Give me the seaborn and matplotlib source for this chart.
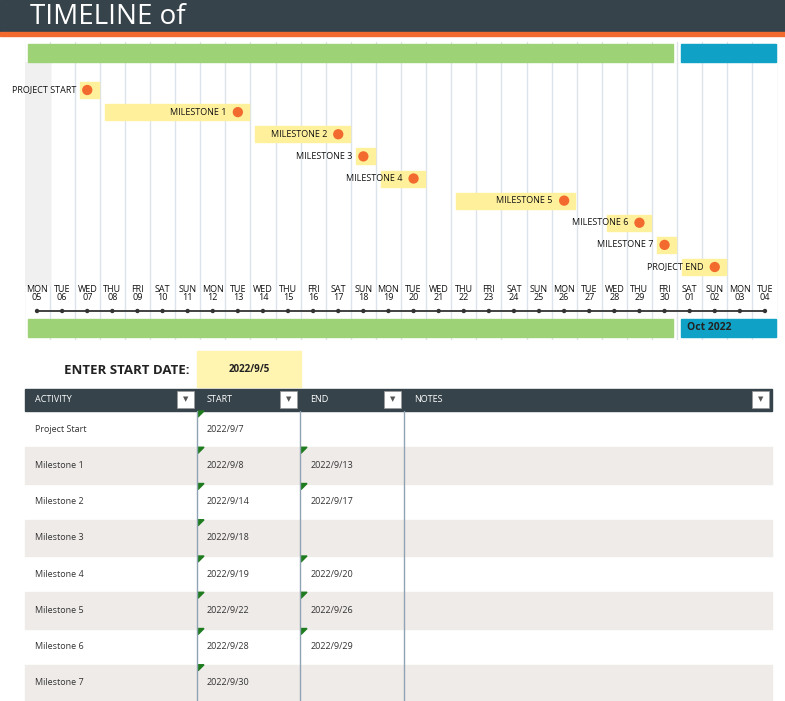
import numpy as np
import pandas as pd
import seaborn as sns
import matplotlib.pyplot as plt
from matplotlib.patches import Rectangle

start_date = pd.Timestamp("2022-09-05")
days = pd.date_range(start_date, periods=30)

activities = ["Project Start", "Milestone 1", "Milestone 2", "Milestone 3", "Milestone 4",
              "Milestone 5", "Milestone 6", "Milestone 7"]
starts = ["2022-09-07", "2022-09-08", "2022-09-14", "2022-09-18", "2022-09-19",
          "2022-09-22", "2022-09-28", "2022-09-30"]
ends = [None, "2022-09-13", "2022-09-17", None, "2022-09-20", "2022-09-26", "2022-09-29", None]

# timeline entries (includes project end)
tl_labels = ["PROJECT START", "MILESTONE 1", "MILESTONE 2", "MILESTONE 3", "MILESTONE 4",
             "MILESTONE 5", "MILESTONE 6", "MILESTONE 7", "PROJECT END"]
tl_starts = starts + ["2022-10-01"]
tl_ends = ends + ["2022-10-02"]

sns.set_style("white")
plt.rcParams["font.family"] = ["Open Sans", "DejaVu Sans"]

W, H = 785, 701
fig = plt.figure(figsize=(W / 100, H / 100), dpi=100)
bg = fig.add_axes([0, 0, 1, 1])
bg.set_xlim(0, W)
bg.set_ylim(H, 0)
bg.axis("off")

# title bar
bg.add_patch(Rectangle((0, 0), W, 32, color="#36434b"))
bg.add_patch(Rectangle((0, 32), W, 4, color="#f26a2e"))
bg.text(30, 17, "TIMELINE of", color="white", fontsize=20, va="center", ha="left")

# timeline axes: x in day index, y in pixels
ax = fig.add_axes([24.5 / W, (H - 340) / H, 753 / W, 300 / H])
ax.set_xlim(-0.5, 29.5)
ax.set_ylim(340, 40)
ax.axis("off")

for i in range(31):
    ax.plot([i - 0.5, i - 0.5], [42, 340], color="#dde3ea", lw=1, zorder=0)
ax.add_patch(Rectangle((-0.5, 62), 1, 223, color="#f0f0f0", zorder=0))

d_idx = {d: i for i, d in enumerate(days)}
sep = [i for i, d in enumerate(days) if d.month == 9]
octo = [i for i, d in enumerate(days) if d.month == 10]
for y in (44, 319):
    ax.add_patch(Rectangle((sep[0] - 0.35, y), sep[-1] - sep[0] + 0.7, 18, color="#9dd276", zorder=1))
    ax.add_patch(Rectangle((octo[0] - 0.35, y), octo[-1] - octo[0] + 0.8, 18, color="#0fa2c6", zorder=1))
ax.text(octo[0] - 0.1, 328, "Oct 2022", fontsize=7.5, va="center", ha="left", fontweight="bold", color="#222")

rows_y = np.linspace(90, 267, len(tl_labels))
dot_x = []
for k, (lab, s, e) in enumerate(zip(tl_labels, tl_starts, tl_ends)):
    si = d_idx[pd.Timestamp(s)]
    ei = d_idx[pd.Timestamp(e)] if e else si
    y = rows_y[k]
    ax.add_patch(Rectangle((si - 0.3, y - 8), ei - si + 0.75, 16, color="#fff19c", zorder=2))
    ax.text(ei - 0.45, y, lab, fontsize=6.5, ha="right", va="center", color="#111", zorder=4)
    dot_x.append(ei)
pts = pd.DataFrame({"x": dot_x, "y": rows_y})
sns.scatterplot(data=pts, x="x", y="y", ax=ax, color="#f26a2e", s=55, edgecolor="none", zorder=3)
ax.set_xlim(-0.5, 29.5)
ax.set_ylim(340, 40)
ax.axis("off")

# day axis
idx = np.arange(len(days))
ax.plot([idx[0], idx[-1]], [311, 311], color="#333", lw=1.3, zorder=2)
sns.scatterplot(x=idx, y=np.full(len(idx), 311), ax=ax, color="#333", s=10, edgecolor="none", zorder=3)
for i, d in enumerate(days):
    ax.text(i, 290, d.strftime("%a").upper(), fontsize=6.5, ha="center", va="center", color="#111")
    ax.text(i, 298, d.strftime("%d"), fontsize=6.5, ha="center", va="center", color="#111")
ax.set_xlim(-0.5, 29.5)
ax.set_ylim(340, 40)
ax.axis("off")

# start date input
bg.text(190, 371, "ENTER START DATE:", fontsize=9.5, fontweight="bold", ha="right", va="center", color="#222")
bg.add_patch(Rectangle((197, 351), 104, 36, color="#fff4b0"))
bg.text(249, 370, f"{start_date.year}/{start_date.month}/{start_date.day}", fontsize=7,
        fontweight="bold", ha="center", va="center", color="#222")

# table
cols = [("ACTIVITY", 25, 197), ("START", 197, 300), ("END", 300, 404), ("NOTES", 404, 772)]
bg.add_patch(Rectangle((25, 389), 747, 22, color="#36434b"))
for name, x0, x1 in cols:
    bg.text(x0 + 10, 400, name, fontsize=6.5, color="white", va="center")
    bg.add_patch(Rectangle((x1 - 20, 391), 17, 17, facecolor="white", edgecolor="#999", lw=0.5))
    bg.text(x1 - 11.5, 400, "▼", fontsize=5, ha="center", va="center", color="#555")

rh = 36.25
for r, (act, s, e) in enumerate(zip(activities, starts, ends)):
    y0 = 411 + r * rh
    if r % 2 == 1:
        bg.add_patch(Rectangle((25, y0), 747, rh, color="#efebe9", zorder=0))
    yc = y0 + rh / 2
    bg.text(35, yc, act, fontsize=6.5, va="center", color="#333")
    sd = pd.Timestamp(s)
    bg.text(207, yc, f"{sd.year}/{sd.month}/{sd.day}", fontsize=6.5, va="center", color="#333")
    bg.add_patch(plt.Polygon([[198, y0], [204, y0], [198, y0 + 6]], color="#1e7b1e"))
    if e:
        ed = pd.Timestamp(e)
        bg.text(311, yc, f"{ed.year}/{ed.month}/{ed.day}", fontsize=6.5, va="center", color="#333")
        bg.add_patch(plt.Polygon([[301, y0], [307, y0], [301, y0 + 6]], color="#1e7b1e"))
for x in (197, 300, 404):
    bg.plot([x, x], [411, H], color="#8fa3b3", lw=1)

fig.savefig("out.png", dpi=100)
